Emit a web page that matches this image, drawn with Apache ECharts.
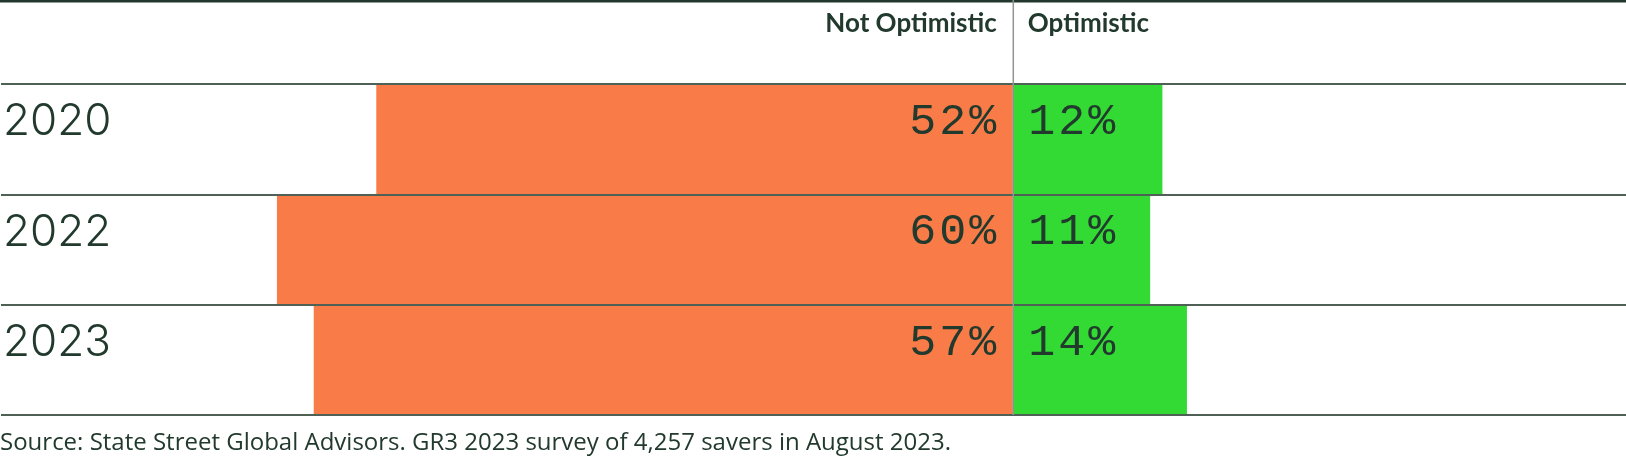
<!DOCTYPE html>
<html>
<head>
<meta charset="utf-8">
<script src="https://cdn.jsdelivr.net/npm/echarts@6/dist/echarts.min.js"></script>
<style>
html,body{margin:0;padding:0;background:#fff;}
#chart{width:1626px;height:460px;}
</style>
</head>
<body>
<div id="chart"></div>
<script>
const categories = ['2020', '2022', '2023'];
const notOptimistic = [51.9, 60, 57];
const optimistic = [12.2, 11.2, 14.2];
const seriesNames = ['Not Optimistic', 'Optimistic'];
const sourceText = 'Source: State Street Global Advisors. GR3 2023 survey of 4,257 savers in August 2023.';

const TEXT = '#22392d';
const chart = echarts.init(document.getElementById('chart'), null, {renderer: 'canvas'});

const spaced = s => s.split('').map(c => '{c|' + c + '}').join('');
const pctRich = {c: {fontFamily: 'Liberation Mono', fontSize: 45, color: TEXT, padding: [0, 1.5, 0, 1.5]}};

const option = {
  animation: false,
  backgroundColor: '#ffffff',
  title: {
    text: sourceText,
    left: 0, top: 431, padding: 0,
    textStyle: {fontFamily: 'Open Sans', fontWeight: 400, fontSize: 24, color: TEXT}
  },
  grid: {left: 0, right: 0, top: 84, height: 331, containLabel: false},
  xAxis: {type: 'value', min: -82.5, max: 50, show: false},
  yAxis: {
    type: 'category', data: categories, inverse: true,
    axisLine: {show: false}, axisTick: {show: false},
    splitLine: {show: true, interval: 0, lineStyle: {color: '#4f6057', width: 2}},
    axisLabel: {
      inside: true, margin: 2, align: 'left', verticalAlign: 'middle',
      formatter: v => '{y|' + v + '}',
      rich: {
        y: {fontFamily: 'Inter', fontWeight: 300, fontSize: 44, color: TEXT, padding: [0, 0, 34, 0]}
      }
    },
    z: 5
  },
  series: [
    {
      name: seriesNames[0], type: 'bar', barWidth: '100%', barGap: '-100%',
      data: notOptimistic.map(v => -v),
      itemStyle: {color: '#f97b47'},
      label: {
        show: true, position: 'insideRight', distance: 15, offset: [0, -17],
        formatter: p => spaced(Math.round(Math.abs(p.value)) + '%'),
        rich: pctRich
      }
    },
    {
      name: seriesNames[1], type: 'bar', barWidth: '100%', barGap: '-100%',
      data: optimistic,
      itemStyle: {color: '#33da33'},
      label: {
        show: true, position: 'insideLeft', distance: 14, offset: [0, -17],
        formatter: p => spaced(Math.round(p.value) + '%'),
        rich: pctRich
      }
    }
  ]
};
chart.setOption(option);

const cx = chart.convertToPixel({xAxisIndex: 0}, 0);
chart.setOption({
  graphic: [
    {type: 'rect', shape: {x: 0, y: 0, width: 1626, height: 2.5}, style: {fill: '#22382c'}, z: 10},
    {type: 'line', shape: {x1: cx + 0.5, y1: 0, x2: cx + 0.5, y2: 415}, style: {stroke: '#8f9690', lineWidth: 1.5}, z: 10},
    {type: 'text', x: cx - 16, y: 24, style: {text: seriesNames[0], fontFamily: 'Lato', fontWeight: 'bold', fontSize: 26, fill: TEXT, align: 'right', verticalAlign: 'middle'}, z: 10},
    {type: 'text', x: cx + 15, y: 24, style: {text: seriesNames[1], fontFamily: 'Lato', fontWeight: 'bold', fontSize: 26, fill: TEXT, align: 'left', verticalAlign: 'middle'}, z: 10}
  ]
});
</script>
</body>
</html>
